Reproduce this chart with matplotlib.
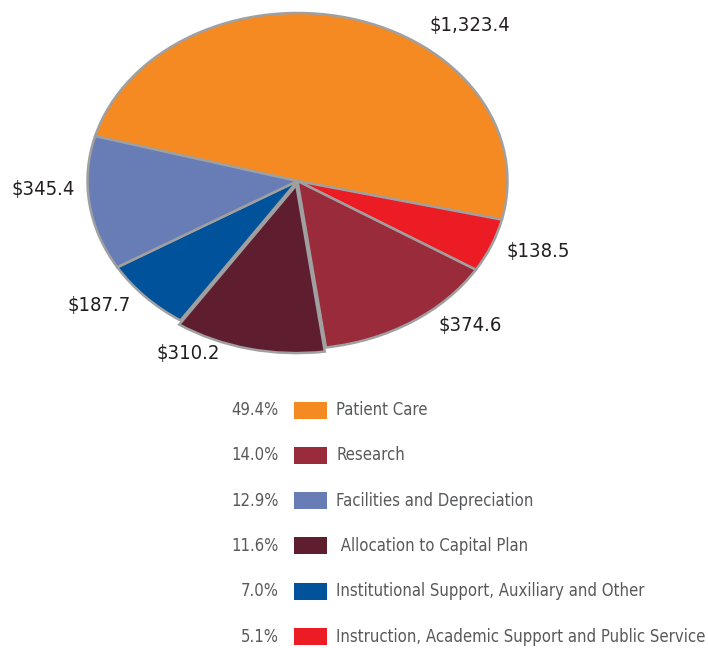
import matplotlib.pyplot as plt
from matplotlib.patches import Rectangle

plt.rcParams['font.family'] = ['DejaVu Sans']
plt.rcParams['font.stretch'] = 'condensed'

# pie order (clockwise from the left edge of the orange slice)
categories = ['Patient Care', 'Instruction, Academic Support and Public Service', 'Research',
              'Allocation to Capital Plan', 'Institutional Support, Auxiliary and Other',
              'Facilities and Depreciation']
values = [1323.4, 138.5, 374.6, 310.2, 187.7, 345.4]
value_labels = ['$1,323.4', '$138.5', '$374.6', '$310.2', '$187.7', '$345.4']
colors = ['#F48A21', '#EC1C24', '#992B3A', '#5E1E30', '#00529B', '#687DB5']
explode = [0, 0, 0, 0.025, 0, 0]

# legend order
legend_names = ['Patient Care', 'Research', 'Facilities and Depreciation',
                ' Allocation to Capital Plan', 'Institutional Support, Auxiliary and Other',
                'Instruction, Academic Support and Public Service']
legend_pcts = ['49.4%', '14.0%', '12.9%', '11.6%', '7.0%', '5.1%']
legend_colors = ['#F48A21', '#992B3A', '#687DB5', '#5E1E30', '#00529B', '#EC1C24']

W, H = 708, 648
fig = plt.figure(figsize=(W / 100, H / 100), dpi=100)

# pie axes, stretched so the pie becomes an ellipse (rx=210px, ry=168px)
cx, cy, rx, ry = 297.5, 181, 210, 168
aw, ah = 2.5 * rx, 2.5 * ry
ax = fig.add_axes([(cx - aw / 2) / W, (H - cy - ah / 2) / H, aw / W, ah / H])
ax.pie(values, colors=colors, startangle=164.5, counterclock=False, explode=explode,
       wedgeprops=dict(edgecolor='#a0a0a0', linewidth=1.8))
ax.set_aspect('auto')
ax.set_xlim(-1.25, 1.25)
ax.set_ylim(-1.25, 1.25)
ax.axis('off')

# overlay in pixel coordinates for text and legend
ov = fig.add_axes([0, 0, 1, 1])
ov.set_xlim(0, W)
ov.set_ylim(H, 0)
ov.axis('off')

label_pos = [(470, 25), (538, 252), (470, 325), (188, 353), (99, 305), (43, 190)]
for (x, y), txt in zip(label_pos, value_labels):
    ov.text(x, y, txt, ha='center', va='center', fontsize=14.5, color='#231f20')

row0, step = 410, 45.3
for i, (name, pct, c) in enumerate(zip(legend_names, legend_pcts, legend_colors)):
    y = row0 + i * step
    ov.text(279, y, pct, ha='right', va='center', fontsize=12, color='#58595b')
    ov.add_patch(Rectangle((294, y - 8.5), 33, 17, facecolor=c, edgecolor='none'))
    ov.text(336, y, name, ha='left', va='center', fontsize=12, color='#58595b')

fig.savefig('out.png', dpi=100)
